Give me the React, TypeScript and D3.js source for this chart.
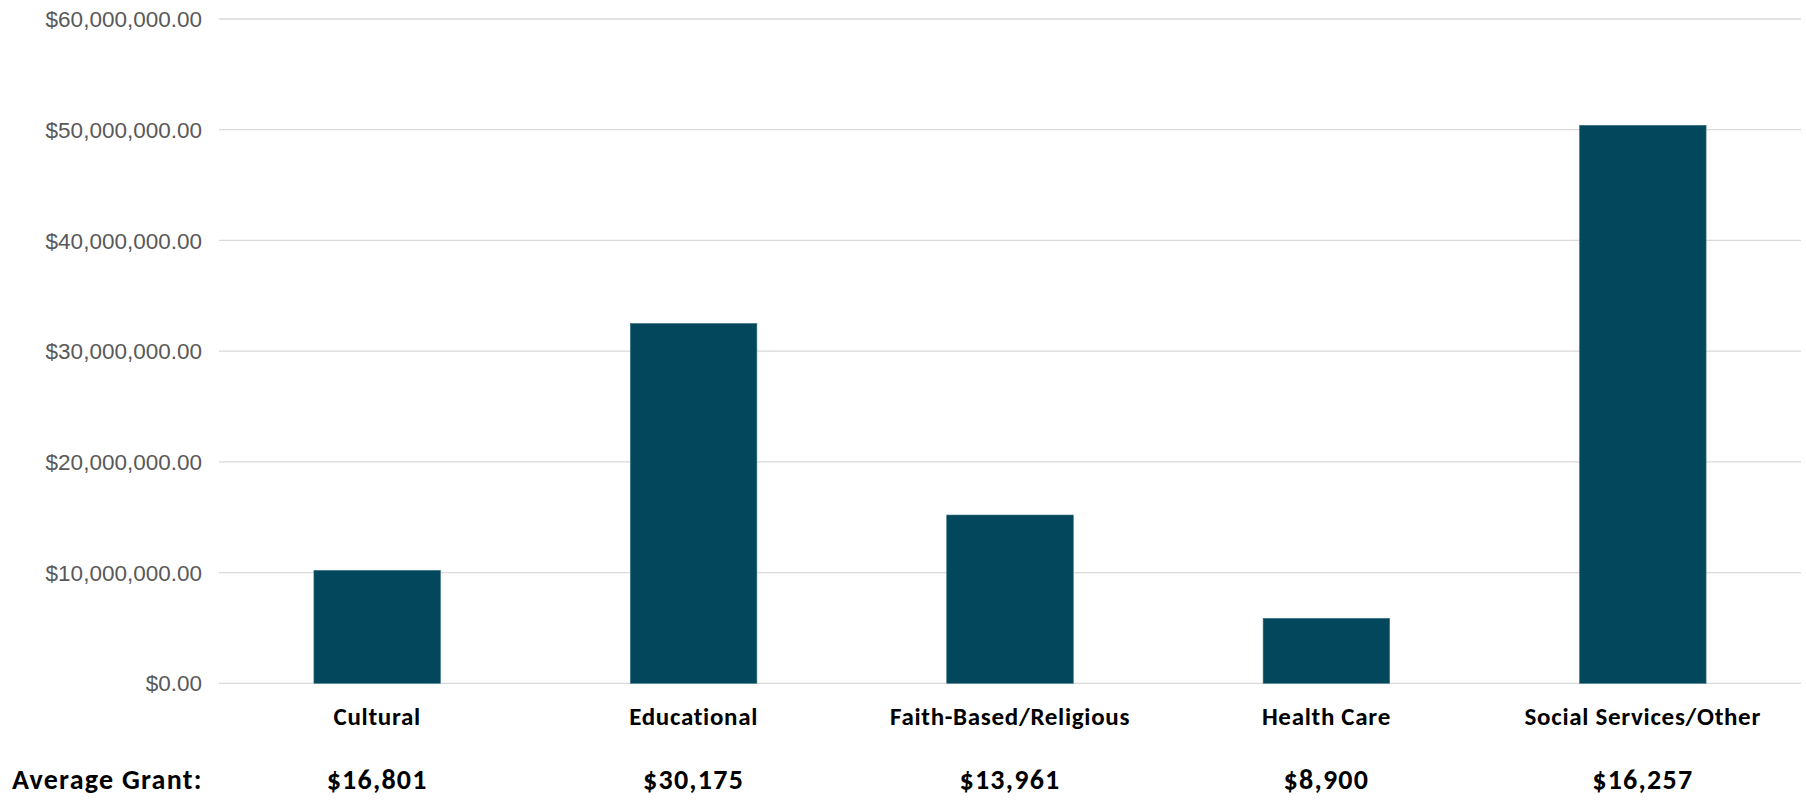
import React from "react";
import * as d3 from "d3";

const categories = ["Cultural", "Educational", "Faith-Based/Religious", "Health Care", "Social Services/Other"];
const totals = [10200000, 32500000, 15200000, 5870000, 50400000];
const averageGrants = ["$16,801", "$30,175", "$13,961", "$8,900", "$16,257"];
const yTicks = [0, 10000000, 20000000, 30000000, 40000000, 50000000, 60000000];
const averageLabel = "Average Grant:";

const W = 1806;
const H = 800;
const left = 219;
const right = 1801;
const top = 19;
const bottom = 683.3;

export default function App() {
  const x = d3.scaleBand<string>().domain(categories).range([left, right]).paddingInner(0.6).paddingOuter(0.3);
  const y = d3.scaleLinear().domain([0, 60000000]).range([bottom, top]);
  const fmt = (v: number) => "$" + d3.format(",.2f")(v);
  const bold = "Carlito, Lato, 'Open Sans', sans-serif";
  return (
    <svg width={W} height={H} style={{ position: "absolute", left: 0, top: 0, background: "#fff" }}>
      <g>
        {yTicks.map((t) => (
          <g key={t}>
            <line x1={left} x2={right} y1={y(t)} y2={y(t)} stroke="#d9d9d9" strokeWidth={1.3} />
            <text x={202} y={y(t)} dy="0.36em" textAnchor="end" fontFamily="'Liberation Sans', Arial, sans-serif" fontSize={22.5} fill="#595959">
              {fmt(t)}
            </text>
          </g>
        ))}
      </g>
      <g>
        {categories.map((c, i) => (
          <rect key={c} x={x(c)} y={y(totals[i])} width={x.bandwidth()} height={bottom - y(totals[i])} fill="#02475c" stroke="#3d7385" strokeWidth={0.6} />
        ))}
      </g>
      <g>
        {categories.map((c) => (
          <text key={c} x={(x(c) as number) + x.bandwidth() / 2} y={725} textAnchor="middle" fontFamily={bold} fontWeight={700} fontSize={25} letterSpacing={0.7} fill="#000">
            {c}
          </text>
        ))}
      </g>
      <g>
        <text x={12} y={789} fontFamily={bold} fontWeight={700} fontSize={28} letterSpacing={1.25} fill="#000">
          {averageLabel}
        </text>
        {categories.map((c, i) => (
          <text key={c} x={(x(c) as number) + x.bandwidth() / 2} y={789} textAnchor="middle" fontFamily={bold} fontWeight={700} fontSize={28} letterSpacing={1.25} fill="#000">
            {averageGrants[i]}
          </text>
        ))}
      </g>
    </svg>
  );
}
